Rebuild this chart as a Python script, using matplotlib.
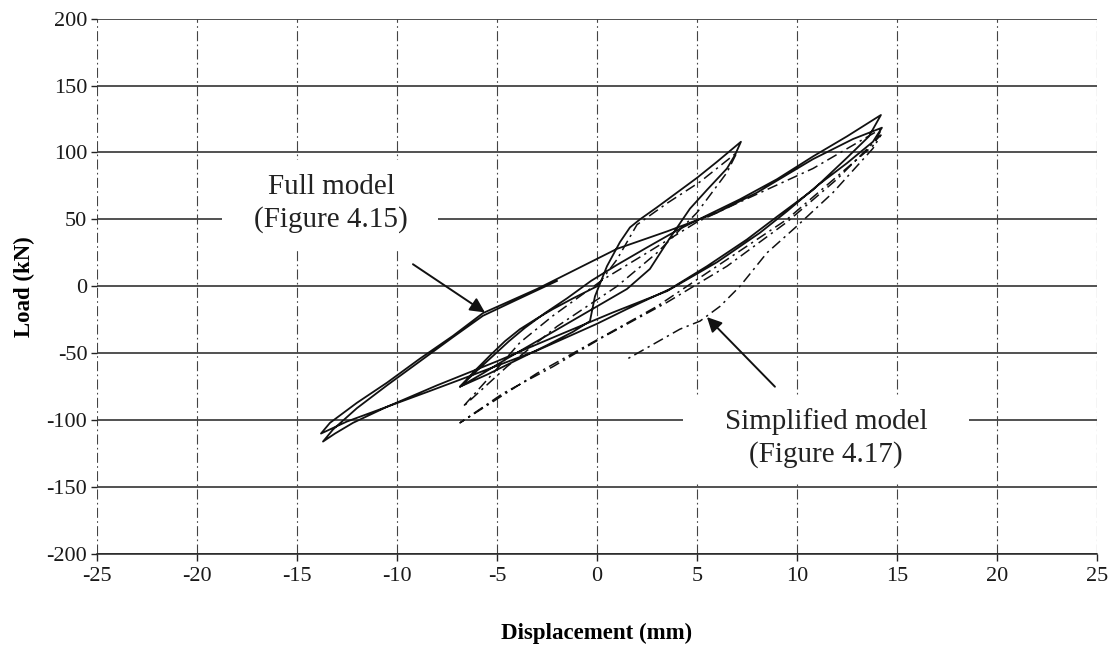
import matplotlib
matplotlib.use("Agg")
import matplotlib.pyplot as plt
from matplotlib.patches import Rectangle

plt.rcParams['font.family'] = ['Liberation Serif', 'DejaVu Serif']

# ---------------- data ----------------
x_ticks = [-25, -20, -15, -10, -5, 0, 5, 10, 15, 20, 25]
y_ticks = [-200, -150, -100, -50, 0, 50, 100, 150, 200]

# Full model (solid) - cyclic path, displacement (mm) / load (kN)
full_disp = [0, -1.2, -2.2, -3.0, -3.85, -4.6, -5.3, -6.1, -6.85,
             -5.5, -4, -2.5, -1.2, -0.35, -0.1, 0.5, 1.15, 1.65, 2.15, 3, 4, 5, 6, 6.8, 7.2,
             6.9, 6.5, 5.5, 4.65, 3.6, 2.65, 1.5, 0, -1.5, -3, -4.5, -5.7, -6.85,
             -6.0, -5.2, -4.4, -3.6, -2.6, -1.5, -0.3, 1, 2.5, 4.15, 5.5, 7.15, 9, 10.8, 12.5, 14.2,
             13.6, 12.5, 10.8, 9, 7.5, 5.5, 3.65, 1.5, 0, -3, -6.35, -8.5, -10.5, -12.5, -13.8,
             -13.35, -12, -10.5, -8.85, -7.2, -5.7, -3, -1, 1, 3.5, 6, 8, 10.8, 12.8, 14.25,
             13.8, 12.5, 11, 9.5, 8.15, 6, 3.5, 0.8, -2, -5, -8, -10.5, -12.2, -13.1, -13.7,
             -13.2, -12, -10.5, -8.85, -7.2, -5.7, -4, -2]
full_load = [0, -9, -17, -24, -32, -41, -51, -63, -75,
             -66, -55, -44, -34, -26, -7.5, 15, 33, 44, 50, 59, 70, 81, 93, 103, 108,
             98, 88, 72, 58, 35, 13, -2, -15, -28, -41, -54, -65, -75,
             -63, -52, -41, -31, -20, -9, 4, 16, 29, 43, 53, 65, 80, 97, 112, 128,
             112, 96, 72, 52, 35, 15, -2, -17, -28, -48, -67, -79, -90, -101, -110,
             -102, -87, -72, -54, -37, -20, -2, 13, 28, 41, 55, 70, 95, 110, 118.5,
             108, 92, 75, 56, 40, 18, -3.6, -19.5, -37, -56, -74, -90, -102, -110, -116,
             -107, -91, -74, -56, -38, -22, -10, 4]

# Simplified model (dash-dot)
simp_disp = [0, 1, 2, 3.5, 5.15, 7,
             6.5, 5, 3, 1, -2, -4.5, -6.7,
             -5.2, -3.85, -2.2, 0.3, 2.5, 5, 7, 10.8, 14.25,
             13.8, 12, 9.5, 6, 3, 0, -3, -6.85,
             -4.7, -2.2, 0.3, 3.5, 6.5, 9.5, 12, 14.2,
             13.8, 11.8, 10, 8.5, 7.15, 6.15, 5.15, 4.15, 1.55]
simp_load = [0, 20, 46, 62, 78, 100,
             85, 55, 25, 0, -30, -60, -90,
             -65, -42, -22, 5, 25, 48, 62, 88, 118,
             105, 82, 50, 15, -15, -40, -65, -102,
             -80, -60, -38, -12, 15, 48, 80, 113,
             103, 70, 45, 25, 0, -15, -26, -32, -54]

full_label = "Full model\n(Figure 4.15)"
simp_label = "Simplified model\n(Figure 4.17)"
full_text_xy = (-13.3, 62)
full_arrow_tail = (-9.2, 16.5)
full_arrow_head = (-5.6, -19.5)
simp_text_xy = (11.45, -113)
simp_arrow_tail = (8.9, -75)
simp_arrow_head = (5.5, -23)

# ---------------- figure ----------------
fig = plt.figure(figsize=(11.16, 6.48), dpi=100)
ax = fig.add_axes([0.0869, 0.145, 0.896, 0.8263])
ax.set_xlim(-25, 25)
ax.set_ylim(-200, 200)
ax.set_xticks(x_ticks)
ax.set_yticks(y_ticks)
ax.set_xticklabels([str(v) for v in x_ticks], fontsize=16, color='#1a1a1a')
ax.set_yticklabels([str(v) for v in y_ticks], fontsize=16, color='#1a1a1a')
ax.tick_params(axis='y', direction='out', length=4, width=1.0, color='#222222', pad=3)
ax.tick_params(axis='x', direction='out', length=5, width=1.0, color='#222222', pad=4)

for s in ['top', 'right', 'left']:
    ax.spines[s].set_visible(False)
ax.spines['bottom'].set_color('#222222')
ax.spines['bottom'].set_linewidth(1.1)

# grid
for yv in y_ticks:
    ax.axhline(yv, color='#222222', lw=1.1, zorder=1)
for xv in x_ticks:
    ax.axvline(xv, color='#444444', lw=0.8, dashes=(9, 3, 1.5, 3), zorder=1)

ax.plot(full_disp, full_load, color='#111111', lw=1.3, zorder=3,
        solid_joinstyle='round')
ax.plot(simp_disp, simp_load, color='#111111', lw=1.1, zorder=3,
        dashes=(7, 3, 1.5, 3))

t1 = ax.text(*full_text_xy, full_label, ha='center', va='center', fontsize=21,
             color='#222222', zorder=2, linespacing=1.3)
t2 = ax.text(*simp_text_xy, simp_label, ha='center', va='center', fontsize=21,
             color='#222222', zorder=2, linespacing=1.3)

ax.annotate('', xy=full_arrow_head, xytext=full_arrow_tail,
            arrowprops=dict(arrowstyle='-|>', color='#111111', lw=1.4,
                            mutation_scale=22, shrinkA=0, shrinkB=0), zorder=4)
ax.annotate('', xy=simp_arrow_head, xytext=simp_arrow_tail,
            arrowprops=dict(arrowstyle='-|>', color='#111111', lw=1.4,
                            mutation_scale=22, shrinkA=0, shrinkB=0), zorder=4)

ax.set_xlabel('Displacement (mm)', fontsize=16.5, fontweight='bold', labelpad=27)
ax.set_ylabel('Load (kN)', fontsize=16.5, fontweight='bold', labelpad=8)

# white masks behind the labels (grid is interrupted there), asymmetric padding in px
fig.canvas.draw()
inv = ax.transData.inverted()
for t, (pl, pr, pt, pb) in [(t1, (32, 30, 14, 16)), (t2, (42, 42, 12, 14))]:
    bb = t.get_window_extent()
    (x0, y0) = inv.transform((bb.x0 - pl, bb.y0 - pb))
    (x1, y1) = inv.transform((bb.x1 + pr, bb.y1 + pt))
    ax.add_patch(Rectangle((x0, y0), x1 - x0, y1 - y0, facecolor='white',
                           edgecolor='none', zorder=1.5))

fig.savefig('out.png', dpi=100, facecolor='white')
